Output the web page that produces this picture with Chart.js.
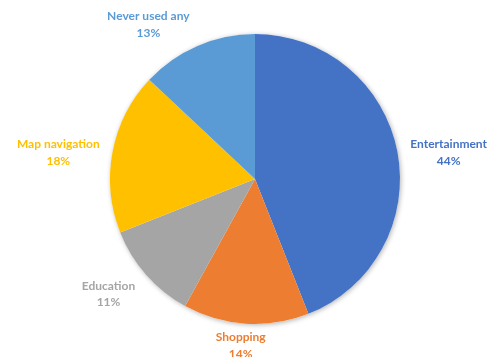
<!DOCTYPE html>
<html>
<head>
<meta charset="utf-8">
<script src="https://cdn.jsdelivr.net/npm/chart.js@4/dist/chart.umd.min.js"></script>
<style>
  html, body { margin: 0; padding: 0; background: #fff; }
  #wrap { width: 496px; height: 357px; }
</style>
</head>
<body>
<div id="wrap"><canvas id="usage"></canvas></div>
<script>
const categories = ['Entertainment', 'Shopping', 'Education', 'Map navigation', 'Never used any'];
const shares = [44, 14, 11, 18, 13];
const sliceColors = ['#4472C4', '#ED7D31', '#A5A5A5', '#FFC000', '#5B9BD5'];

// soft shadow behind the whole pie
const pieShadow = {
  id: 'pieShadow',
  beforeDatasetsDraw(chart) {
    const arc = chart.getDatasetMeta(0).data[0];
    if (!arc) return;
    const ctx = chart.ctx;
    ctx.save();
    ctx.shadowColor = 'rgba(0,0,0,0.3)';
    ctx.shadowBlur = 5;
    ctx.shadowOffsetX = 1;
    ctx.shadowOffsetY = 1;
    ctx.fillStyle = '#fff';
    ctx.beginPath();
    ctx.arc(arc.x, arc.y, arc.outerRadius, 0, Math.PI * 2);
    ctx.fill();
    ctx.restore();
  }
};

// outside-end labels: name + percentage, coloured like the slice
const outsideLabels = {
  id: 'outsideLabels',
  afterDatasetsDraw(chart) {
    const ctx = chart.ctx;
    const meta = chart.getDatasetMeta(0);
    const lineH = 16.5;
    const clamp = v => Math.max(-1, Math.min(1, v));
    ctx.save();
    ctx.font = 'bold 12px Lato';
    ctx.textAlign = 'center';
    ctx.textBaseline = 'middle';
    meta.data.forEach((arc, i) => {
      const mid = (arc.startAngle + arc.endAngle) / 2;
      const dx = Math.cos(mid), dy = Math.sin(mid);
      const r = arc.outerRadius + 8;
      const px = arc.x + dx * r, py = arc.y + dy * r;
      const lines = [categories[i], shares[i] + '%'];
      const halfW = Math.max(...lines.map(t => ctx.measureText(t).width)) / 2 + 5;
      const halfH = 14;
      const cx = px + clamp(dx * 2.5) * halfW;
      const cy = py + Math.sign(dy) * halfH * clamp((Math.abs(dy) - 0.25) * 2.5);
      ctx.fillStyle = sliceColors[i];
      ctx.fillText(lines[0], cx, cy - lineH / 2);
      ctx.fillText(lines[1], cx, cy + lineH / 2);
    });
    ctx.restore();
  }
};

new Chart(document.getElementById('usage'), {
  type: 'pie',
  data: {
    labels: categories,
    datasets: [{
      data: shares,
      backgroundColor: sliceColors,
      borderWidth: 0,
      offset: 0,
      hoverOffset: 0
    }]
  },
  options: {
    responsive: true,
    maintainAspectRatio: false,
    animation: false,
    layout: { padding: { left: 110, right: 96, top: 34, bottom: 33 } },
    plugins: {
      legend: { display: false },
      title: { display: false },
      tooltip: { enabled: false }
    }
  },
  plugins: [pieShadow, outsideLabels]
});
</script>
</body>
</html>
